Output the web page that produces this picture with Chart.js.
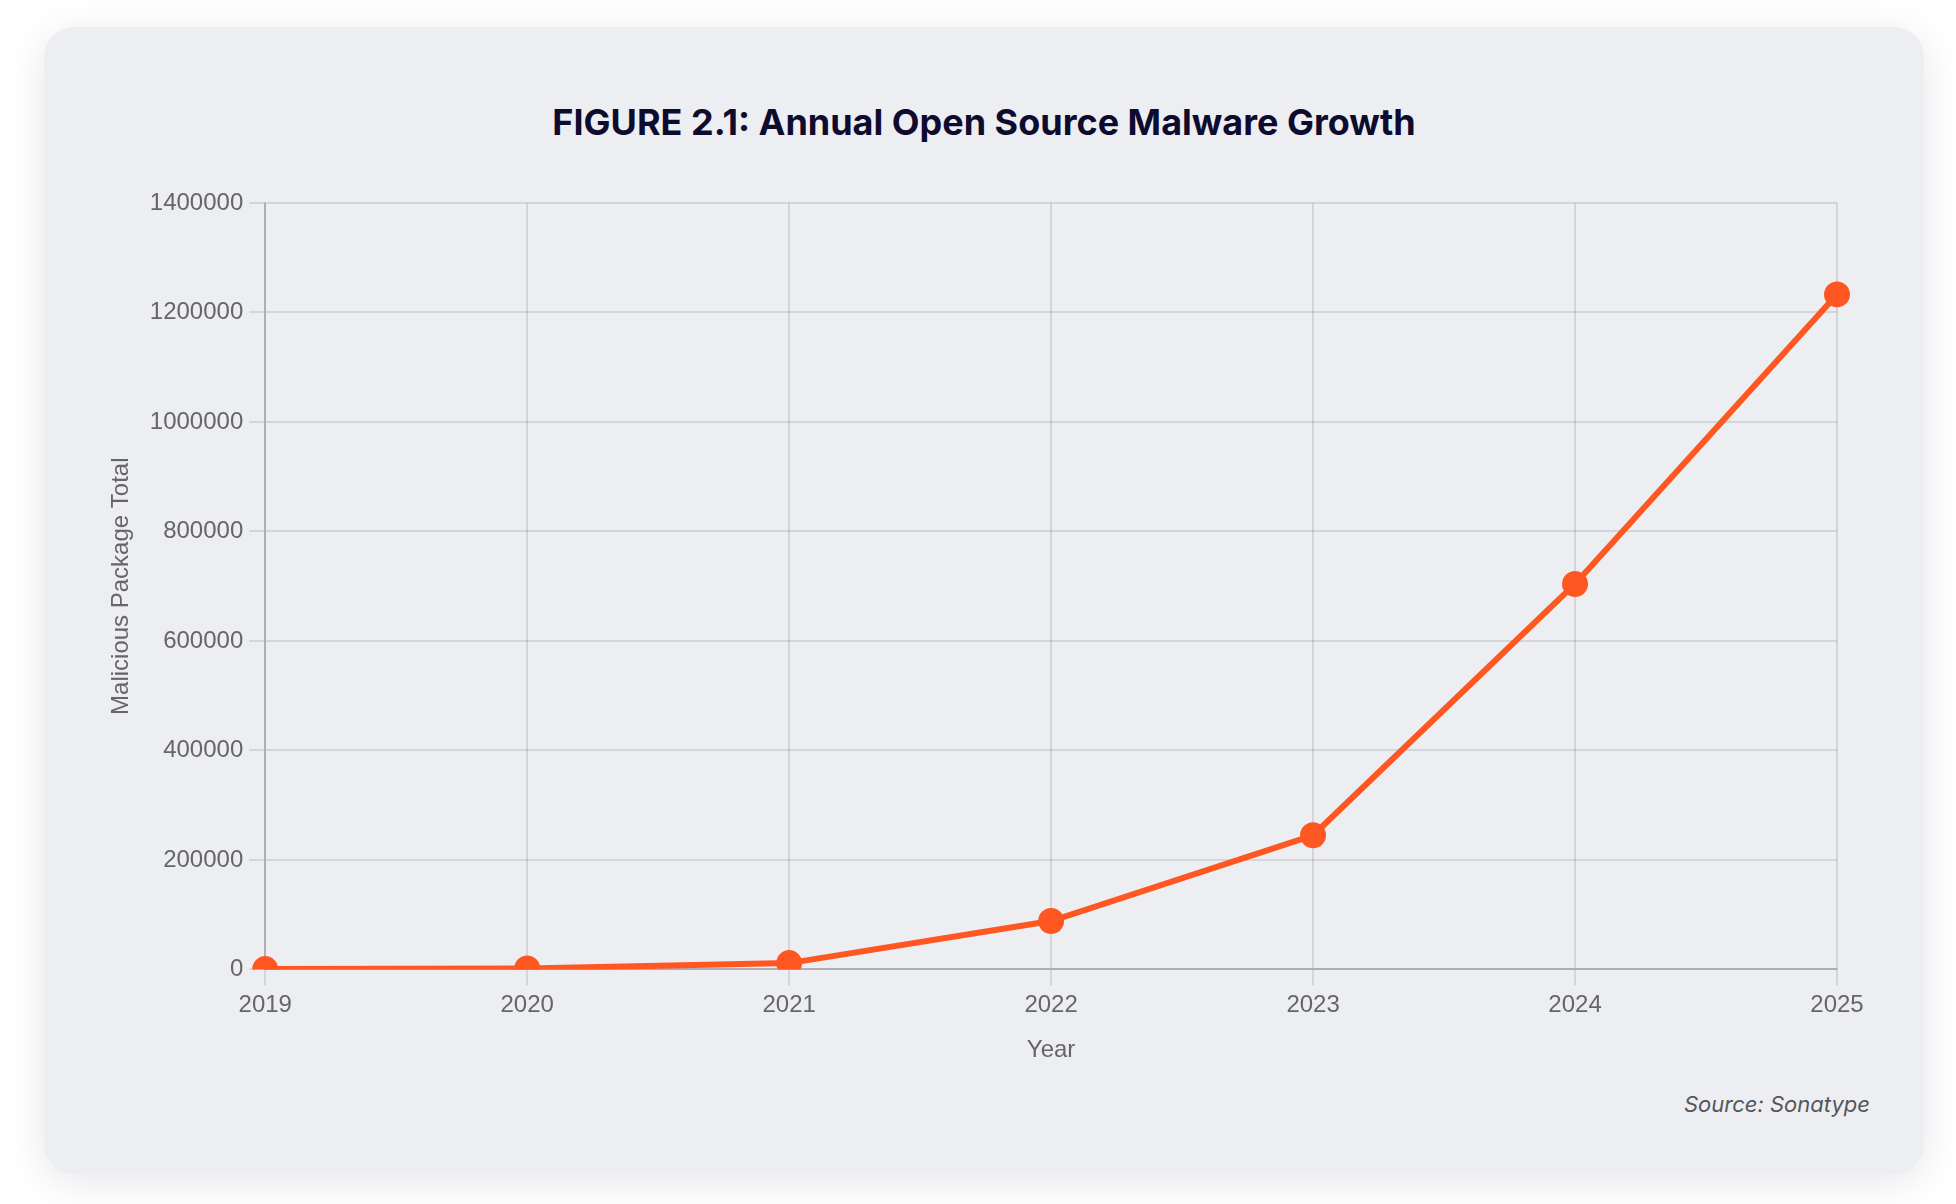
<!DOCTYPE html>
<html>
<head>
<meta charset="utf-8">
<title>Annual Open Source Malware Growth</title>
<script src="https://cdn.jsdelivr.net/npm/chart.js@4"></script>
<style>
    html, body {
        margin: 0;
        padding: 0;
        background: #ffffff;
    }
    .card {
        position: absolute;
        left: 44px;
        top: 27px;
        width: 1880px;
        height: 1147px;
        border-radius: 30px;
        background: #edeef2;
        box-shadow: 0 8px 40px rgba(20, 20, 50, 0.10);
    }
    .title {
        position: absolute;
        left: 0;
        right: 0;
        top: 73px;
        line-height: 44px;
        text-align: center;
        font-family: Inter, "Liberation Sans", sans-serif;
        font-weight: 700;
        font-size: 36px;
        color: #0d0c2e;
    }
    .chart-box {
        position: absolute;
        left: 20px;
        top: 20px;
        width: 1840px;
        height: 1026px;
    }
    .source {
        position: absolute;
        right: 54px;
        top: 1064px;
        font-family: Inter, "Liberation Sans", sans-serif;
        font-style: italic;
        font-size: 22px;
        color: #55565c;
    }
</style>
</head>
<body>
<div class="card">
    <div class="title">FIGURE 2.1: Annual Open Source Malware Growth</div>
    <div class="chart-box"><canvas id="malwareChart"></canvas></div>
    <div class="source">Source: Sonatype</div>
</div>

<script>
// values
const years = ['2019', '2020', '2021', '2022', '2023', '2024', '2025'];
const packageTotals = [600, 1600, 11500, 88400, 245000, 704000, 1233000];
const yMax = 1400000;
const yStep = 200000;

const tickFont = { family: '"Liberation Sans", Arial, sans-serif', size: 24 };

new Chart(document.getElementById('malwareChart'), {
    type: 'line',
    data: {
        labels: years,
        datasets: [{
            label: 'Malicious Package Total',
            data: packageTotals,
            borderColor: '#ff5722',
            backgroundColor: '#ff5722',
            borderWidth: 6,
            pointRadius: 12,
            pointBorderWidth: 2,
            pointBackgroundColor: '#ff5722',
            pointBorderColor: '#ff5722',
            tension: 0
        }]
    },
    options: {
        responsive: true,
        maintainAspectRatio: false,
        animation: false,
        layout: {
            // top padding leaves room for the HTML title above the plot
            padding: { left: 35, right: 67, top: 156, bottom: 0 }
        },
        plugins: {
            legend: { display: false },
            title: { display: false }
        },
        scales: {
            x: {
                grid: { color: 'rgba(0, 0, 0, 0.1)', lineWidth: 2, tickLength: 16 },
                border: { color: 'rgba(0, 0, 0, 0.18)', width: 2 },
                ticks: { color: '#666', font: tickFont, padding: 6 },
                title: {
                    display: true,
                    text: 'Year',
                    color: '#666',
                    font: tickFont,
                    padding: { top: 10, bottom: 8 }
                }
            },
            y: {
                min: 0,
                max: yMax,
                grid: { color: 'rgba(0, 0, 0, 0.1)', lineWidth: 2, tickLength: 16 },
                border: { color: 'rgba(0, 0, 0, 0.18)', width: 2 },
                ticks: {
                    stepSize: yStep,
                    color: '#666',
                    font: tickFont,
                    padding: 6,
                    callback: function(value) {
                        return value;
                    }
                },
                title: {
                    display: true,
                    text: 'Malicious Package Total',
                    color: '#666',
                    font: tickFont,
                    padding: { top: 8, bottom: 8 }
                }
            }
        }
    }
});
</script>
</body>
</html>
